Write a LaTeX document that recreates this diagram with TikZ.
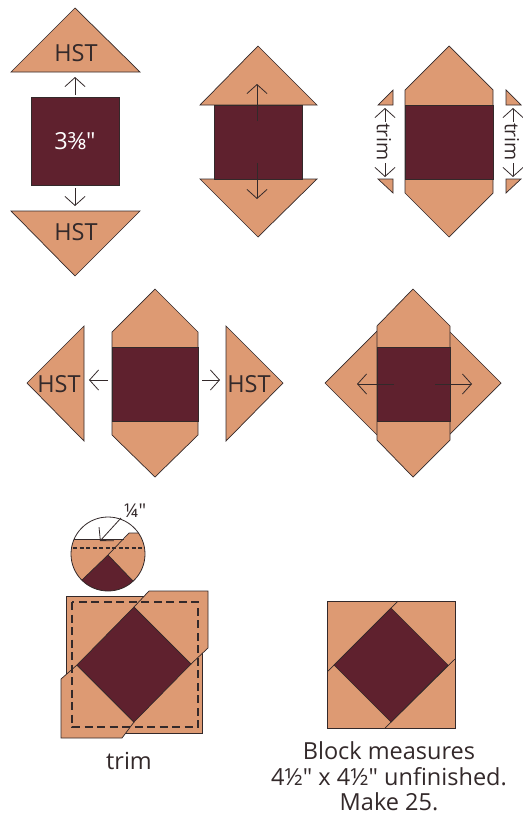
\documentclass[tikz,border=0pt]{standalone}
\usepackage{fontspec}
\setmainfont{Open Sans}[Ligatures=TeXOff]
\usetikzlibrary{arrows.meta}
\definecolor{tan}{HTML}{DD9A73}
\definecolor{wine}{HTML}{5F212E}
\definecolor{ink}{HTML}{33292A}
\tikzset{
  tanpiece/.style={fill=tan,draw=ink,line width=.7pt,line join=miter},
  winepiece/.style={fill=wine,draw=ink,line width=.7pt},
  seam/.style={draw=ink,line width=.7pt},
  pressarrow/.style={draw=ink,line width=.8pt,-{Straight Barb[length=9pt,width=20pt,line width=.8pt]}},
  label/.style={text=ink,inner sep=0pt,font=\fontsize{23.5}{26}\selectfont},
  cutline/.style={draw=ink,line width=1.5pt,dash pattern=on 8pt off 4.5pt}
}
\begin{document}
\begin{tikzpicture}[x=1pt,y=-1pt]
\useasboundingbox (0,0) rectangle (522,816);
% panel 1
\draw[tanpiece] (75,8) -- (140,72) -- (11,72) -- cycle;
\draw[tanpiece] (75,276) -- (140,211) -- (11,211) -- cycle;
\node[draw=ink,fill=wine,line width=.7pt,minimum size=88pt,inner sep=0pt,text=white,font=\fontsize{23.5}{26}\selectfont] (sq) at (75,141) {3⅜"};
\node[label] (hsttop) at (76,53) {HST};
\node[label] (hstbot) at (76,232) {HST};
\draw[pressarrow] (75,95) -- (75,77);
\draw[pressarrow] (75,188) -- (75,206);
% panel 2
\draw[tanpiece] (258,46) -- (317,105) -- (200,105) -- cycle;
\draw[tanpiece] (258,237) -- (317,179) -- (200,179) -- cycle;
\draw[winepiece] (214,105) rectangle (302,179);
\draw[pressarrow] (257,121) -- (257,84);
\draw[pressarrow] (257,163) -- (257,199);
% panel 3
\draw[tanpiece] (449,46) -- (493,90) -- (493,193) -- (449,237) -- (405,193) -- (405,90) -- cycle;
\draw[winepiece] (405,105) rectangle (493,179);
\draw[tanpiece] (393,90) -- (393,105) -- (378,105) -- cycle;
\draw[tanpiece] (378,179) -- (393,179) -- (393,193) -- cycle;
\draw[tanpiece] (506,90) -- (506,105) -- (521,105) -- cycle;
\draw[tanpiece] (506,193) -- (506,179) -- (521,179) -- cycle;
\node[label,rotate=-90,font=\fontsize{19.5}{22}\selectfont] (triml) at (384,142) {trim};
\node[label,rotate=-90,font=\fontsize{19.5}{22}\selectfont] (trimr) at (512,142) {trim};
\draw[pressarrow] (385,122) -- (385,108);
\draw[pressarrow] (385,163) -- (385,177);
\draw[pressarrow] (513,122) -- (513,108);
\draw[pressarrow] (513,163) -- (513,177);
% panel 4
\draw[tanpiece] (155,289) -- (198,332) -- (198,435) -- (155,477) -- (112,435) -- (112,332) -- cycle;
\draw[winepiece] (112,347) rectangle (198,421);
\draw[tanpiece] (27,383) -- (84,326) -- (84,441) -- cycle;
\draw[tanpiece] (283,383) -- (226,326) -- (226,441) -- cycle;
\node[label] (hstl) at (59,384) {HST};
\node[label] (hstr) at (249,384) {HST};
\draw[pressarrow] (108,380) -- (89,380);
\draw[pressarrow] (202,380) -- (220,380);
% panel 5
\draw[tanpiece] (325,383) -- (383,325) -- (383,441) -- cycle;
\draw[tanpiece] (501,383) -- (444,326) -- (444,440) -- cycle;
\draw[tanpiece] (413,289) -- (450,326) -- (450,440) -- (413,477) -- (377,440) -- (377,326) -- cycle;
\draw[winepiece] (377,347) rectangle (450,421);
\draw[pressarrow] (394,384) -- (357,384);
\draw[pressarrow] (435,384) -- (472,384);
% trim block
\draw[tanpiece] (66,596) rectangle (202,733);
\draw[tanpiece] (149,591) -- (208,591) -- (208,648) -- (191,664) -- (134,607) -- cycle;
\draw[tanpiece] (61,679) -- (77,665) -- (134,722) -- (122,738) -- (61,738) -- cycle;
\draw[winepiece] (134,607) -- (191,664) -- (134,722) -- (77,665) -- cycle;
\draw[cutline] (72,602) rectangle (198,727);
\node[label] (trimlab) at (129,761) {trim};
% detail circle
\coordinate (cc) at (108,554);
\fill[white] (cc) circle (37);
\begin{scope}
\clip (cc) circle (37);
\fill[tan] (60,539) -- (124,539) -- (129,533) -- (150,533) -- (150,600) -- (60,600) -- cycle;
\draw[seam] (60,539) -- (124,539);
\draw[seam] (108,555) -- (129,533) -- (150,533);
\fill[wine] (108,555) -- (133,581) -- (133,600) -- (82,600) -- (82,580) -- cycle;
\draw[seam] (82,580) -- (108,555) -- (133,581);
\draw[cutline,line width=1.1pt,dash pattern=on 4pt off 2.5pt] (60,548) -- (150,548);
\end{scope}
\draw[draw=ink,line width=.8pt] (cc) circle (37);
\draw[pressarrow] (121,518) -- (100,541);
\node[label,font=\fontsize{19}{22}\selectfont] (quarter) at (135,511) {¼"};
% finished block
\draw[tanpiece] (327,601) rectangle (455,728);
\draw[seam] (328,671) -- (398,601);
\draw[seam] (385,728) -- (455,659);
\draw[winepiece] (391,608) -- (448,665) -- (391,722) -- (334,665) -- cycle;
\node[label] (m1) at (389,751) {Block measures};
\node[label] (m2) at (389,777) {4½" x 4½" unfinished.};
\node[label] (m3) at (389,802) {Make 25.};
\end{tikzpicture}
\end{document}
